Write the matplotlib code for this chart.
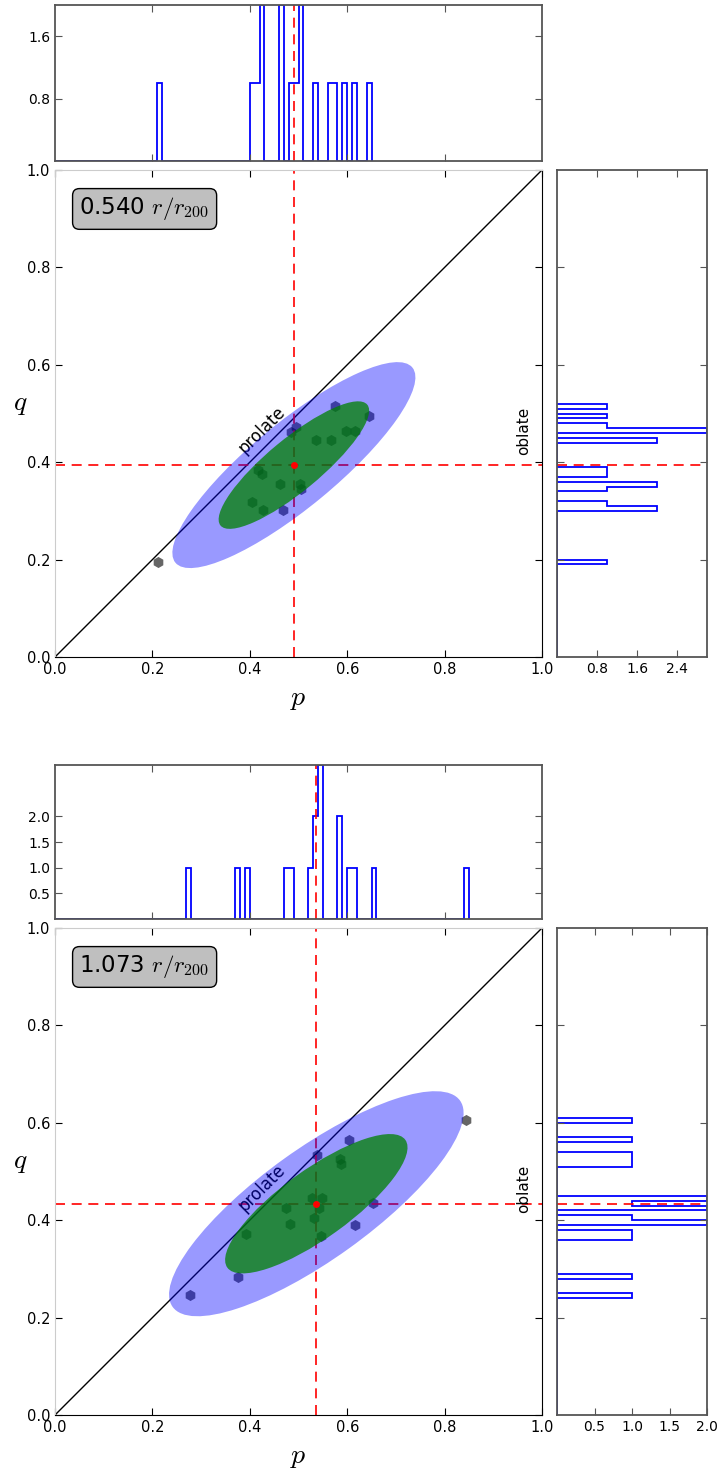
import numpy as np
import matplotlib
matplotlib.use('Agg')
import matplotlib.pyplot as plt
from matplotlib.patches import Ellipse

plt.rcParams['mathtext.fontset'] = 'cm'

# upper panel (r/r200 = 0.540)
radius1 = 0.540
p1 = np.array([0.212, 0.405, 0.416, 0.425, 0.428, 0.462, 0.468, 0.485, 0.495,
               0.503, 0.505, 0.535, 0.567, 0.575, 0.598, 0.615, 0.645])
q1 = np.array([0.195, 0.318, 0.385, 0.375, 0.302, 0.355, 0.302, 0.463, 0.472,
               0.355, 0.345, 0.446, 0.446, 0.515, 0.465, 0.465, 0.495])
hist_ticks1 = [0.8, 1.6, 2.4]

# lower panel (r/r200 = 1.073)
radius2 = 1.073
p2 = np.array([0.277, 0.376, 0.392, 0.475, 0.482, 0.527, 0.548, 0.532, 0.546,
               0.537, 0.587, 0.585, 0.603, 0.617, 0.652, 0.843, 0.543])
q2 = np.array([0.246, 0.283, 0.372, 0.425, 0.392, 0.445, 0.445, 0.405, 0.368,
               0.534, 0.515, 0.525, 0.565, 0.390, 0.435, 0.605, 0.425])
hist_ticks2 = [0.5, 1.0, 1.5, 2.0]

axis_ticks = [0.0, 0.2, 0.4, 0.6, 0.8, 1.0]
s68, s95 = 1.516, 2.448   # chi2 (2 dof) radii

W, H = 721, 1471
fig = plt.figure(figsize=(W / 100, H / 100), dpi=100)


def box(x0, y0, x1, y1):
    return [x0 / W, 1 - y1 / H, (x1 - x0) / W, (y1 - y0) / H]


def cov_ellipse(ax, p, q, scale, **kw):
    vals, vecs = np.linalg.eigh(np.cov(p, q))
    i = np.argmax(vals)
    ang = np.degrees(np.arctan2(vecs[1, i], vecs[0, i]))
    w = 2 * scale * np.sqrt(vals[i])
    h = 2 * scale * np.sqrt(vals[1 - i])
    ax.add_patch(Ellipse((p.mean(), q.mean()), w, h, angle=ang, **kw))


def style_hist(ax):
    for s in ax.spines.values():
        s.set_color('#555555')
        s.set_linewidth(1.3)
    ax.tick_params(direction='in', top=True, right=True, length=5,
                   labelsize=10, color='#555555')


def panel(y_top, radius, p, q, hticks):
    y_main = y_top + 165 if y_top < 100 else y_top + 163
    edges_p = np.arange(0, np.ceil(p.max() * 100) + 1) / 100
    edges_q = np.arange(0, np.ceil(q.max() * 100) + 1) / 100
    cp, _ = np.histogram(p, edges_p)
    cq, _ = np.histogram(q, edges_q)

    ax = fig.add_axes(box(55, y_main, 542, y_main + 487))
    axt = fig.add_axes(box(55, y_top, 542, y_main - 9))
    axr = fig.add_axes(box(557, y_main, 707, y_main + 487))

    # main panel
    ax.plot(p, q, 'h', color='k', alpha=0.6, ms=8, mec='none', zorder=1)
    ax.plot([0, 1], [0, 1], color='k', lw=1, zorder=1)
    ax.axvline(p.mean(), color='r', ls='--', lw=1.2, dashes=(6, 4), zorder=1)
    ax.axhline(q.mean(), color='r', ls='--', lw=1.2, dashes=(6, 4), zorder=1)
    ax.text(0.425, 0.467, 'prolate', rotation=45, fontsize=12,
            ha='center', va='center', zorder=1)
    ax.text(0.963, 0.465, 'oblate', rotation=90, fontsize=11,
            ha='center', va='center', zorder=1)
    cov_ellipse(ax, p, q, s95, facecolor='b', alpha=0.4, lw=0, zorder=2)
    cov_ellipse(ax, p, q, s68, facecolor='g', alpha=0.75, lw=0, zorder=3)
    ax.plot(p.mean(), q.mean(), 'o', color='r', ms=5, mec='none', zorder=4)
    ax.text(0.184, 0.92, '%.3f $r/r_{200}$' % radius, transform=ax.transAxes,
            fontsize=16.5, ha='center', va='center',
            bbox=dict(boxstyle='round,pad=0.3', fc='#bfbfbf', ec='k'))
    ax.set_xlim(0, 1)
    ax.set_ylim(0, 1)
    ax.set_xticks(axis_ticks)
    ax.set_yticks(axis_ticks)
    ax.tick_params(direction='in', top=True, right=True, length=5,
                   labelsize=10.5)
    ax.spines['top'].set_color('#cccccc')
    ax.spines['left'].set_color('#cccccc')
    ax.set_xlabel('$p$', fontsize=20, va='center')
    ax.set_ylabel('$q$', fontsize=20, rotation=0, va='center', ha='center')
    ax.xaxis.set_label_coords(0.5, -0.085)
    ax.yaxis.set_label_coords(-0.072, 0.522)

    # p histogram
    axt.stairs(cp, edges_p, color='b', lw=1.3)
    axt.axvline(p.mean(), color='r', ls='--', lw=1.2, dashes=(6, 4))
    axt.set_xlim(0, 1)
    axt.set_ylim(0, cp.max())
    axt.set_xticks(axis_ticks[1:-1])
    axt.set_xticklabels([])
    axt.set_yticks([t for t in hticks if t < cp.max()])
    style_hist(axt)

    # q histogram
    axr.stairs(cq, edges_q, orientation='horizontal', color='b', lw=1.3)
    axr.axhline(q.mean(), color='r', ls='--', lw=1.2, dashes=(6, 4))
    axr.set_ylim(0, 1)
    axr.set_xlim(0, cq.max())
    axr.set_yticks(axis_ticks[1:-1])
    axr.set_yticklabels([])
    axr.set_xticks([t for t in hticks if t <= cq.max()])
    style_hist(axr)


panel(5, radius1, p1, q1, hist_ticks1)
panel(765, radius2, p2, q2, hist_ticks2)

fig.savefig('out.png', dpi=100)
